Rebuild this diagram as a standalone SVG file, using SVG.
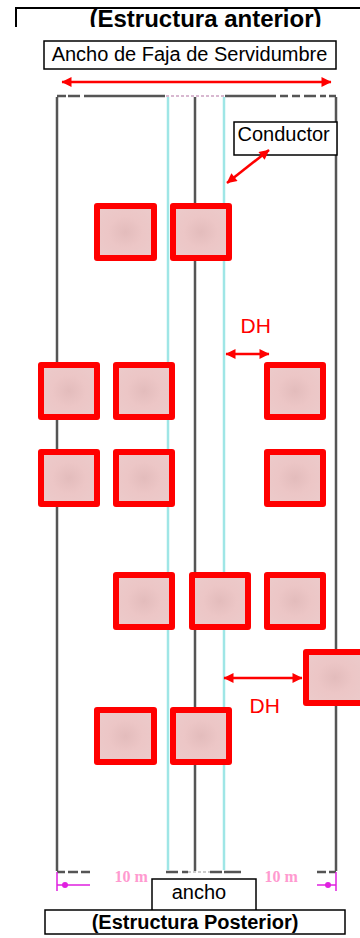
<svg xmlns="http://www.w3.org/2000/svg" width="360" height="938" viewBox="0 0 360 938">
<defs>
<marker id="ah" viewBox="0 0 10 10" refX="9.500" refY="5" markerWidth="13" markerHeight="10" markerUnits="userSpaceOnUse" orient="auto-start-reverse"><path d="M0 0L10 5L0 10Z" fill="#ff0000"/></marker>
<radialGradient id="tex" cx="0.500" cy="0.500" r="0.600"><stop offset="0" stop-color="#e3bcbc"/><stop offset="0.500" stop-color="#ecc6c6"/><stop offset="1" stop-color="#eccaca"/></radialGradient>
<clipPath id="titleclip"><rect x="0" y="0" width="360" height="27"/></clipPath>
</defs>
<style>
text{font-family:"Liberation Sans",Arial,sans-serif;fill:#000}
.box{fill:#fff;stroke:#000;stroke-width:1.500}
.b{font-weight:bold}
.sq{fill:url(#tex);stroke:#ff0000;stroke-width:6;stroke-linejoin:round}
.g{stroke:#555;stroke-width:2.500;fill:none}
.c{stroke:#9fe6e6;stroke-width:2.500;fill:none}
.r{stroke:#ff0000;stroke-width:2.500;fill:none}
.m{stroke:#e020e0;stroke-width:1.500;fill:none}
.ten{font-family:"Liberation Serif",serif;font-weight:bold;font-size:16px;fill:#ff9ad0}
.dh{font-size:21px;fill:#ff0000}
</style>
<g id="connectors">
<path class="g" d="M57 97V871M336 97V871M195 97V871"/>
<path class="g" d="M57 96H66M68 96H80M84 96H165M225 96H276M280 96H288M292 96H300M304 96H316M320 96H326M329 96H336"/>
<path d="M166 96H226" stroke="#d8b8d0" stroke-width="2" stroke-dasharray="3 2" fill="none"/>
<path class="c" d="M168 97V870"/>
<path class="c" d="M224 97V870"/>
<path class="g" d="M57 872H65M68 872H78M81 872H90M317 872H326M329 872H336M166 872H178M182 872H188M210 872H222M224 872H241"/>
<path d="M188 872H210" stroke="#ccc" stroke-width="2" stroke-dasharray="3 2" fill="none"/>
<path class="m" d="M57 872V891M336 872V891M57 885H90M317 885H336"/>
<circle cx="65" cy="885" r="3" fill="#e020e0"/>
<circle cx="328" cy="885" r="3" fill="#e020e0"/>
<line class="r" x1="62" y1="82" x2="331" y2="82" marker-start="url(#ah)" marker-end="url(#ah)"/>
<line class="r" x1="226" y1="354" x2="269" y2="354" marker-start="url(#ah)" marker-end="url(#ah)"/>
<line class="r" x1="224" y1="678" x2="302" y2="678" marker-start="url(#ah)" marker-end="url(#ah)"/>
</g>
<g id="title-top">
<path d="M16 27V8H360" fill="none" stroke="#000" stroke-width="2"/>
<text class="b" x="205.500" y="27" font-size="24" text-anchor="middle" clip-path="url(#titleclip)">(Estructura anterior)</text>
</g>
<g id="label-ancho-faja"><rect class="box" x="44" y="41" width="292" height="28"/><text x="189.500" y="61" font-size="20" text-anchor="middle">Ancho de Faja de Servidumbre</text></g>
<g id="label-conductor"><rect class="box" x="234" y="122" width="103" height="33"/><text x="237.500" y="141" font-size="20">Conductor</text></g>
<g id="connector-conductor"><line class="r" x1="227" y1="183" x2="269" y2="150" marker-start="url(#ah)" marker-end="url(#ah)"/></g>
<g id="sq1"><rect class="sq" x="97" y="206" width="57" height="52"/></g>
<g id="sq2"><rect class="sq" x="173" y="206" width="56" height="52"/></g>
<g id="sq3"><rect class="sq" x="41" y="365" width="56" height="52"/></g>
<g id="sq4"><rect class="sq" x="116" y="365" width="56" height="52"/></g>
<g id="sq5"><rect class="sq" x="267" y="365" width="56" height="52"/></g>
<g id="sq6"><rect class="sq" x="41" y="452" width="56" height="52"/></g>
<g id="sq7"><rect class="sq" x="116" y="452" width="56" height="52"/></g>
<g id="sq8"><rect class="sq" x="267" y="452" width="56" height="52"/></g>
<g id="sq9"><rect class="sq" x="116" y="575" width="56" height="52"/></g>
<g id="sq10"><rect class="sq" x="192" y="575" width="56" height="52"/></g>
<g id="sq11"><rect class="sq" x="267" y="575" width="56" height="52"/></g>
<g id="sq12"><rect class="sq" x="306" y="652" width="58" height="51"/></g>
<g id="sq13"><rect class="sq" x="97" y="710" width="57" height="52"/></g>
<g id="sq14"><rect class="sq" x="173" y="710" width="56" height="52"/></g>
<g id="label-dh1"><text class="dh" x="240.500" y="333">DH</text></g>
<g id="label-dh2"><text class="dh" x="249.500" y="713">DH</text></g>
<g id="label-10m-left"><text class="ten" x="114.500" y="882">10 m</text></g>
<g id="label-10m-right"><text class="ten" x="264.500" y="882">10 m</text></g>
<g id="label-ancho"><rect class="box" x="152" y="879" width="104" height="32"/><text x="199" y="899" font-size="20" text-anchor="middle">ancho</text></g>
<g id="label-posterior"><rect class="box" x="45" y="910" width="300" height="24"/><text class="b" x="195" y="929" font-size="20" text-anchor="middle">(Estructura Posterior)</text></g>
</svg>
